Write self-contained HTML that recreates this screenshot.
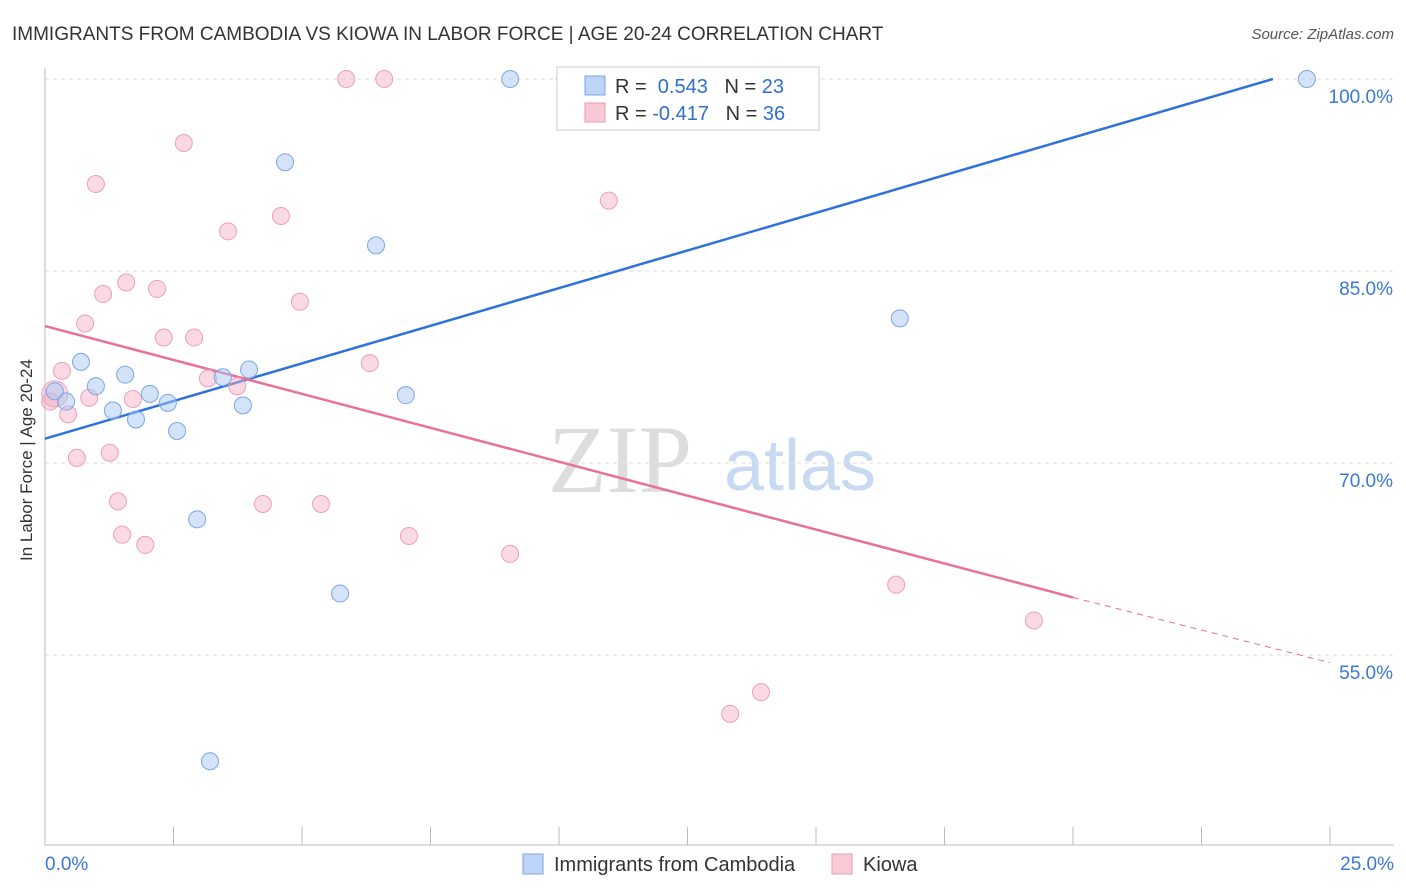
<!DOCTYPE html>
<html><head><meta charset="utf-8"><style>
body{margin:0;background:#fff;font-family:"Liberation Sans",sans-serif}
svg{display:block}
</style></head><body>
<svg id="c" width="1406" height="892">
<text x="12" y="40" font-size="19" fill="#333">IMMIGRANTS FROM CAMBODIA VS KIOWA IN LABOR FORCE | AGE 20-24 CORRELATION CHART</text>
<text x="1394" y="39" font-size="15" fill="#555" font-style="italic" text-anchor="end">Source: ZipAtlas.com</text>
<text x="32" y="460" font-size="17" fill="#333" transform="rotate(-90 32 460)" text-anchor="middle">In Labor Force | Age 20-24</text>
<text x="620" y="492" font-size="96" fill="#ddd" font-family="Liberation Serif" text-anchor="middle">ZIP</text>
<text x="800" y="490" font-size="72" fill="#c8daf2" text-anchor="middle">atlas</text>
<g id="grid"></g><g id="lines"></g><g id="pts"></g>
<g>
<rect x="557" y="67" width="262" height="63" fill="#fff" stroke="#ccc"/>
<rect x="585" y="76" width="20" height="19" fill="#bcd4f5" stroke="#7aa6e6"/>
<rect x="585" y="103" width="20" height="19" fill="#f9c9d8" stroke="#eb9ab4"/>
<text x="615" y="93" font-size="20" fill="#333">R = <tspan fill="#2f6fd0">&#160;0.543</tspan>&#160;&#160;&#160;N = <tspan fill="#2f6fd0">23</tspan></text>
<text x="615" y="120" font-size="20" fill="#333">R = <tspan fill="#2f6fd0">-0.417</tspan>&#160;&#160;&#160;N = <tspan fill="#2f6fd0">36</tspan></text>
</g>
<g>
<rect x="523" y="854" width="20" height="20" fill="#bcd4f5" stroke="#7aa6e6"/>
<text x="554" y="871" font-size="20" fill="#333">Immigrants from Cambodia</text>
<rect x="832" y="854" width="20" height="20" fill="#f9c9d8" stroke="#eb9ab4"/>
<text x="863" y="871" font-size="20" fill="#333">Kiowa</text>
</g>
<text x="45" y="870" font-size="19" fill="#3a78d4">0.0%</text>
<text x="1394" y="870" font-size="19" fill="#3a78d4" text-anchor="end">25.0%</text>
</svg>
<script>
const yTicks=[100,85,70,55];
const blueX=[9.05,10.12,24.55,4.67,6.44,16.63,0.70,0.99,1.56,2.04,2.39,1.32,1.77,2.57,3.97,3.46,3.85,7.02,0.41,0.19,2.96,5.74,3.21];
const blueY=[100,100,100,93.5,87.0,81.3,77.9,76.0,76.9,75.4,74.7,74.1,73.4,72.5,77.3,76.7,74.5,75.3,74.8,75.6,65.6,59.8,46.7];
const pinkX=[5.86,6.60,2.70,0.99,10.97,4.59,3.56,1.58,2.18,1.13,4.96,0.78,2.31,2.90,6.32,0.33,3.17,3.74,0.86,1.71,0.45,0.10,1.26,0.62,1.42,4.24,5.37,1.50,1.95,7.08,9.05,16.56,19.24,13.93,13.33,0.19];
const pinkY=[100,100,95.0,91.8,90.5,89.3,88.1,84.1,83.6,83.2,82.6,80.9,79.8,79.8,77.8,77.2,76.6,76.0,75.1,75.0,73.8,74.8,70.8,70.4,67.0,66.8,66.8,64.4,63.6,64.3,62.9,60.5,57.7,52.1,50.4,75.4];
const blueLine=[[0,71.9],[23.89,100]];
const pinkLine=[[0,80.7],[20,59.5]];
const pinkDash=[[20,59.5],[25,54.4]];
const X=v=>45+v/25*1285, Y=v=>79+(100-v)*12.8;
const ns="http://www.w3.org/2000/svg";
function mk(p,t,a){const e=document.createElementNS(ns,t);for(const k in a)e.setAttribute(k,a[k]);p.appendChild(e);return e;}
const g=document.getElementById('grid');
yTicks.forEach(t=>{
 const l=mk(g,'line',{x1:45,x2:1394,y1:Y(t),y2:Y(t),stroke:'#ddd','stroke-dasharray':'4 4'});
 
 
 const tx=mk(g,'text',{x:1393,y:Y(t)+24,'font-size':19,fill:'#3a78d4','text-anchor':'end'});
 tx.textContent=t.toFixed(1)+'%';
 
 
});
mk(g,'line',{x1:45,x2:45,y1:68,y2:845,stroke:'#bbb'});
mk(g,'line',{x1:45,x2:1394,y1:845,y2:845,stroke:'#bbb'});
for(let i=1;i<=10;i++){const x=X(i*2.5);const t=mk(g,'line',{x1:x,x2:x,y1:827,y2:845,stroke:'#bbb'});
 
 }
const L=document.getElementById('lines');
function ln(d,c,dash,name){const e=mk(L,'line',{x1:X(d[0][0]),y1:Y(d[0][1]),x2:X(d[1][0]),y2:Y(d[1][1]),stroke:c,'stroke-width':dash?1:2.5});
 if(dash)e.setAttribute('stroke-dasharray','6 5');
 
 }
ln(blueLine,'#2f73d8',0,'cambodia-trend-line');
ln(pinkLine,'#e8709a',0,'kiowa-trend-line');
ln(pinkDash,'#e8709a',1,'kiowa-trend-extension');
const P=document.getElementById('pts');
pinkX.forEach((x,i)=>{const c=mk(P,'circle',{cx:X(x),cy:Y(pinkY[i]),r:i==35?13:8.5,fill:'rgba(245,170,195,0.45)',stroke:'#eba0b8','stroke-width':1});
 
 });
blueX.forEach((x,i)=>{const c=mk(P,'circle',{cx:X(x),cy:Y(blueY[i]),r:8.5,fill:'rgba(170,200,240,0.5)',stroke:'#7aa6e6','stroke-width':1});
 
 });
</script>
</body></html>
